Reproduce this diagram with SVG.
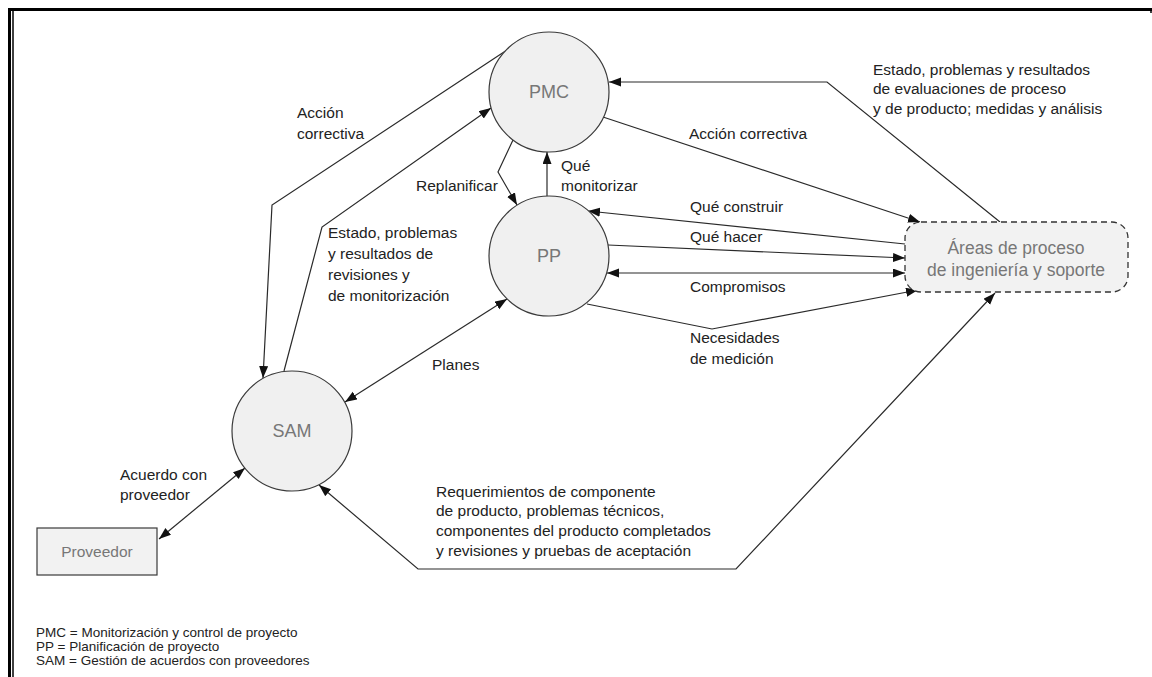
<svg xmlns="http://www.w3.org/2000/svg" width="1152" height="677" viewBox="0 0 1152 677">
  <style>
    .frame { stroke: #000; fill: none; }
    .node { fill: #f0f0f0; stroke: #3a3a3a; stroke-width: 1.2; }
    .box { fill: #f2f2f2; stroke: #333; stroke-width: 1.3; stroke-dasharray: 6 4; }
    .nlabel { font-family: "Liberation Sans", Arial, sans-serif; fill: #777; text-anchor: middle; }
    .lbl { font-family: "Liberation Sans", Arial, sans-serif; font-size: 15.5px; fill: #222; }
    .legend { font-family: "Liberation Sans", Arial, sans-serif; font-size: 13.5px; fill: #222; }
    .edge { fill: none; stroke: #2a2a2a; stroke-width: 1.2; }
  </style>
  <defs>
    <marker id="arrow" markerUnits="userSpaceOnUse" markerWidth="13" markerHeight="10" refX="12" refY="4.5" orient="auto-start-reverse">
      <path d="M0,0 L12,4.5 L0,9 z" fill="#111"/>
    </marker>
  </defs>

  <rect width="1152" height="677" fill="#fff"/>

  <!-- page frame -->
  <g id="frame">
    <line class="frame" x1="8" y1="9.5" x2="1152" y2="9.5" stroke-width="3"/>
    <line class="frame" x1="9.5" y1="8" x2="9.5" y2="677" stroke-width="3"/>
    <line class="frame" x1="13" y1="11" x2="13" y2="677" stroke-width="1.5"/>
    <line class="frame" x1="1151" y1="8" x2="1151" y2="13" stroke-width="1.5"/>
  </g>

  <!-- connectors -->
  <g id="connectors">
    <path class="edge" d="M507,50 L272,205 L263,378" marker-end="url(#arrow)"/>
    <path class="edge" d="M284,371 L322,227 L491,108" marker-end="url(#arrow)"/>
    <path class="edge" d="M513,140 L498,172 L517,205" marker-end="url(#arrow)"/>
    <path class="edge" d="M547,196 L547,152" marker-end="url(#arrow)"/>
    <path class="edge" d="M603,117 L920,222" marker-end="url(#arrow)"/>
    <path class="edge" d="M1000,222 L827,82 L609,82" marker-end="url(#arrow)"/>
    <path class="edge" d="M905,244 L588,211" marker-end="url(#arrow)"/>
    <path class="edge" d="M608,245 L905,258" marker-end="url(#arrow)"/>
    <path class="edge" d="M607,273 L905,273" stroke-width="1.6" marker-start="url(#arrow)" marker-end="url(#arrow)"/>
    <path class="edge" d="M587,304 L712,329 L918,290" marker-end="url(#arrow)"/>
    <path class="edge" d="M345,402 L507,299" marker-start="url(#arrow)" marker-end="url(#arrow)"/>
    <path class="edge" d="M159,539 L245,468" marker-start="url(#arrow)" marker-end="url(#arrow)"/>
    <path class="edge" d="M319,485 L418,569 L736,569 L995,293" marker-start="url(#arrow)" marker-end="url(#arrow)"/>
  </g>

  <!-- connector labels -->
  <g id="labels">
    <text class="lbl" x="297" y="118">Acción</text>
    <text class="lbl" x="297" y="139">correctiva</text>
    <text class="lbl" x="873" y="75">Estado, problemas y resultados</text>
    <text class="lbl" x="873" y="94">de evaluaciones de proceso</text>
    <text class="lbl" x="873" y="114">y de producto; medidas y análisis</text>
    <text class="lbl" x="689" y="139">Acción correctiva</text>
    <text class="lbl" x="416" y="191">Replanificar</text>
    <text class="lbl" x="561" y="171">Qué</text>
    <text class="lbl" x="561" y="191">monitorizar</text>
    <text class="lbl" x="690" y="212">Qué construir</text>
    <text class="lbl" x="690" y="242">Qué hacer</text>
    <text class="lbl" x="690" y="292">Compromisos</text>
    <text class="lbl" x="690" y="343">Necesidades</text>
    <text class="lbl" x="690" y="364">de medición</text>
    <text class="lbl" x="328" y="238">Estado, problemas</text>
    <text class="lbl" x="328" y="259">y resultados de</text>
    <text class="lbl" x="328" y="280">revisiones y</text>
    <text class="lbl" x="328" y="301">de monitorización</text>
    <text class="lbl" x="432" y="370">Planes</text>
    <text class="lbl" x="120" y="480">Acuerdo con</text>
    <text class="lbl" x="120" y="500">proveedor</text>
    <text class="lbl" x="436" y="497">Requerimientos de componente</text>
    <text class="lbl" x="436" y="516">de producto, problemas técnicos,</text>
    <text class="lbl" x="436" y="536">componentes del producto completados</text>
    <text class="lbl" x="436" y="556">y revisiones y pruebas de aceptación</text>
  </g>

  <!-- nodes -->
  <g id="node-pmc">
    <circle class="node" cx="549" cy="92" r="60"/>
    <text class="nlabel" x="549" y="98" font-size="18">PMC</text>
  </g>
  <g id="node-pp">
    <circle class="node" cx="549" cy="256" r="60"/>
    <text class="nlabel" x="549" y="262" font-size="18">PP</text>
  </g>
  <g id="node-sam">
    <circle class="node" cx="292" cy="431" r="60"/>
    <text class="nlabel" x="292" y="437" font-size="18">SAM</text>
  </g>
  <g id="node-proveedor">
    <rect x="37" y="528" width="120" height="47" fill="#f2f2f2" stroke="#3a3a3a" stroke-width="1.2"/>
    <text class="nlabel" x="97" y="557" font-size="15.5">Proveedor</text>
  </g>
  <g id="node-ingenieria">
    <rect class="box" x="905" y="222" width="223" height="70" rx="16"/>
    <text class="nlabel" x="1016" y="254" font-size="17.5" fill="#808080">Áreas de proceso</text>
    <text class="nlabel" x="1016" y="276" font-size="17.5" fill="#808080">de ingeniería y soporte</text>
  </g>

  <!-- abbreviations -->
  <g id="legend">
    <text class="legend" x="36" y="637">PMC = Monitorización y control de proyecto</text>
    <text class="legend" x="36" y="651">PP = Planificación de proyecto</text>
    <text class="legend" x="36" y="665">SAM = Gestión de acuerdos con proveedores</text>
  </g>
</svg>
